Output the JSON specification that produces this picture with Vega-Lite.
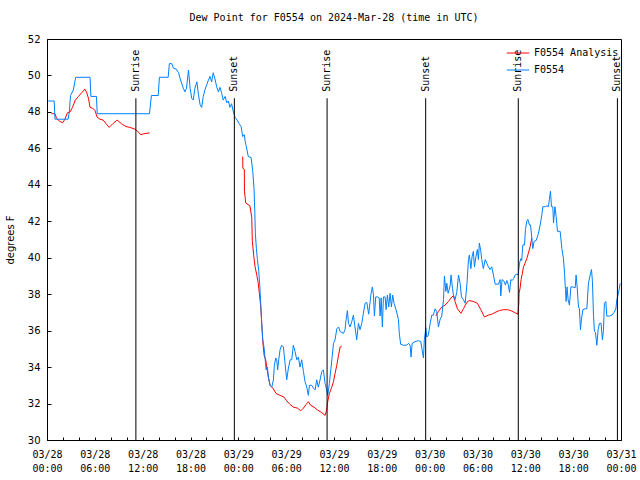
{
"$schema": "https://vega.github.io/schema/vega-lite/v6.json",
"width": 574, "height": 401,
"autosize": {"type": "none"},
"padding": {"left": 47, "top": 39, "right": 19, "bottom": 40},
"background": "white",
"title": {"text": "Dew Point for F0554 on 2024-Mar-28 (time in UTC)", "font": "DejaVu Sans Mono", "fontSize": 10, "fontWeight": "normal", "color": "black", "anchor": "middle", "offset": 11},
"config": {"view": {"stroke": "black", "strokeWidth": 1}, "axis": {"domainColor": "black", "tickColor": "black", "labelColor": "black", "titleColor": "black", "grid": false}},
"datasets": {
"sun": [
{"event": "Sunrise", "t": "2024-03-28T11:09:00Z"},
{"event": "Sunset", "t": "2024-03-28T23:30:00Z"},
{"event": "Sunrise", "t": "2024-03-29T11:08:00Z"},
{"event": "Sunset", "t": "2024-03-29T23:30:00Z"},
{"event": "Sunrise", "t": "2024-03-30T11:07:00Z"},
{"event": "Sunset", "t": "2024-03-30T23:33:00Z"}
],
"dew": [
{"series":"F0554 Analysis","seg":1,"t":"2024-03-28T00:33:00Z","v":47.9},
{"series":"F0554 Analysis","seg":1,"t":"2024-03-28T01:00:00Z","v":47.9},
{"series":"F0554 Analysis","seg":1,"t":"2024-03-28T01:12:00Z","v":47.65},
{"series":"F0554 Analysis","seg":1,"t":"2024-03-28T01:33:00Z","v":47.5},
{"series":"F0554 Analysis","seg":1,"t":"2024-03-28T01:57:00Z","v":47.4},
{"series":"F0554 Analysis","seg":1,"t":"2024-03-28T02:15:00Z","v":47.6},
{"series":"F0554 Analysis","seg":1,"t":"2024-03-28T02:33:00Z","v":47.95},
{"series":"F0554 Analysis","seg":1,"t":"2024-03-28T02:54:00Z","v":48.0},
{"series":"F0554 Analysis","seg":1,"t":"2024-03-28T03:12:00Z","v":48.25},
{"series":"F0554 Analysis","seg":1,"t":"2024-03-28T03:33:00Z","v":48.65},
{"series":"F0554 Analysis","seg":1,"t":"2024-03-28T03:57:00Z","v":48.85},
{"series":"F0554 Analysis","seg":1,"t":"2024-03-28T04:21:00Z","v":49.05},
{"series":"F0554 Analysis","seg":1,"t":"2024-03-28T04:45:00Z","v":49.25},
{"series":"F0554 Analysis","seg":1,"t":"2024-03-28T04:57:00Z","v":49.1},
{"series":"F0554 Analysis","seg":1,"t":"2024-03-28T05:12:00Z","v":48.75},
{"series":"F0554 Analysis","seg":1,"t":"2024-03-28T05:24:00Z","v":48.25},
{"series":"F0554 Analysis","seg":1,"t":"2024-03-28T05:42:00Z","v":48.2},
{"series":"F0554 Analysis","seg":1,"t":"2024-03-28T06:00:00Z","v":48.1},
{"series":"F0554 Analysis","seg":1,"t":"2024-03-28T06:18:00Z","v":47.7},
{"series":"F0554 Analysis","seg":1,"t":"2024-03-28T06:39:00Z","v":47.6},
{"series":"F0554 Analysis","seg":1,"t":"2024-03-28T07:03:00Z","v":47.55},
{"series":"F0554 Analysis","seg":1,"t":"2024-03-28T07:30:00Z","v":47.3},
{"series":"F0554 Analysis","seg":1,"t":"2024-03-28T07:48:00Z","v":47.15},
{"series":"F0554 Analysis","seg":1,"t":"2024-03-28T08:15:00Z","v":47.35},
{"series":"F0554 Analysis","seg":1,"t":"2024-03-28T08:48:00Z","v":47.55},
{"series":"F0554 Analysis","seg":1,"t":"2024-03-28T09:21:00Z","v":47.35},
{"series":"F0554 Analysis","seg":1,"t":"2024-03-28T09:54:00Z","v":47.2},
{"series":"F0554 Analysis","seg":1,"t":"2024-03-28T10:24:00Z","v":47.15},
{"series":"F0554 Analysis","seg":1,"t":"2024-03-28T11:03:00Z","v":47.05},
{"series":"F0554 Analysis","seg":1,"t":"2024-03-28T11:21:00Z","v":46.95},
{"series":"F0554 Analysis","seg":1,"t":"2024-03-28T11:45:00Z","v":46.75},
{"series":"F0554 Analysis","seg":1,"t":"2024-03-28T12:09:00Z","v":46.8},
{"series":"F0554 Analysis","seg":1,"t":"2024-03-28T12:51:00Z","v":46.85},
{"series":"F0554 Analysis","seg":2,"t":"2024-03-29T00:33:00Z","v":45.55},
{"series":"F0554 Analysis","seg":2,"t":"2024-03-29T00:34:00Z","v":44.9},
{"series":"F0554 Analysis","seg":2,"t":"2024-03-29T00:45:00Z","v":44.85},
{"series":"F0554 Analysis","seg":2,"t":"2024-03-29T00:46:00Z","v":43.65},
{"series":"F0554 Analysis","seg":2,"t":"2024-03-29T00:56:00Z","v":43.0},
{"series":"F0554 Analysis","seg":2,"t":"2024-03-29T01:27:00Z","v":42.85},
{"series":"F0554 Analysis","seg":2,"t":"2024-03-29T01:41:00Z","v":42.2},
{"series":"F0554 Analysis","seg":2,"t":"2024-03-29T01:45:00Z","v":40.95},
{"series":"F0554 Analysis","seg":2,"t":"2024-03-29T01:56:00Z","v":40.1},
{"series":"F0554 Analysis","seg":2,"t":"2024-03-29T02:06:00Z","v":39.5},
{"series":"F0554 Analysis","seg":2,"t":"2024-03-29T02:19:00Z","v":39.05},
{"series":"F0554 Analysis","seg":2,"t":"2024-03-29T02:30:00Z","v":38.6},
{"series":"F0554 Analysis","seg":2,"t":"2024-03-29T02:38:00Z","v":38.05},
{"series":"F0554 Analysis","seg":2,"t":"2024-03-29T02:49:00Z","v":37.3},
{"series":"F0554 Analysis","seg":2,"t":"2024-03-29T02:56:00Z","v":36.4},
{"series":"F0554 Analysis","seg":2,"t":"2024-03-29T03:04:00Z","v":35.4},
{"series":"F0554 Analysis","seg":2,"t":"2024-03-29T03:14:00Z","v":34.65},
{"series":"F0554 Analysis","seg":2,"t":"2024-03-29T03:26:00Z","v":34.4},
{"series":"F0554 Analysis","seg":2,"t":"2024-03-29T03:37:00Z","v":33.85},
{"series":"F0554 Analysis","seg":2,"t":"2024-03-29T03:46:00Z","v":33.45},
{"series":"F0554 Analysis","seg":2,"t":"2024-03-29T03:59:00Z","v":33.0},
{"series":"F0554 Analysis","seg":2,"t":"2024-03-29T04:19:00Z","v":32.85},
{"series":"F0554 Analysis","seg":2,"t":"2024-03-29T04:44:00Z","v":32.55},
{"series":"F0554 Analysis","seg":2,"t":"2024-03-29T05:14:00Z","v":32.45},
{"series":"F0554 Analysis","seg":2,"t":"2024-03-29T05:44:00Z","v":32.35},
{"series":"F0554 Analysis","seg":2,"t":"2024-03-29T06:04:00Z","v":32.15},
{"series":"F0554 Analysis","seg":2,"t":"2024-03-29T06:29:00Z","v":31.95},
{"series":"F0554 Analysis","seg":2,"t":"2024-03-29T06:55:00Z","v":31.8},
{"series":"F0554 Analysis","seg":2,"t":"2024-03-29T07:25:00Z","v":31.75},
{"series":"F0554 Analysis","seg":2,"t":"2024-03-29T07:50:00Z","v":31.6},
{"series":"F0554 Analysis","seg":2,"t":"2024-03-29T08:10:00Z","v":31.75},
{"series":"F0554 Analysis","seg":2,"t":"2024-03-29T08:30:00Z","v":31.95},
{"series":"F0554 Analysis","seg":2,"t":"2024-03-29T08:47:00Z","v":32.1},
{"series":"F0554 Analysis","seg":2,"t":"2024-03-29T09:05:00Z","v":31.9},
{"series":"F0554 Analysis","seg":2,"t":"2024-03-29T09:30:00Z","v":31.8},
{"series":"F0554 Analysis","seg":2,"t":"2024-03-29T09:55:00Z","v":31.65},
{"series":"F0554 Analysis","seg":2,"t":"2024-03-29T10:28:00Z","v":31.5},
{"series":"F0554 Analysis","seg":2,"t":"2024-03-29T10:53:00Z","v":31.35},
{"series":"F0554 Analysis","seg":2,"t":"2024-03-29T11:05:00Z","v":31.65},
{"series":"F0554 Analysis","seg":2,"t":"2024-03-29T11:10:00Z","v":32.0},
{"series":"F0554 Analysis","seg":2,"t":"2024-03-29T11:25:00Z","v":32.55},
{"series":"F0554 Analysis","seg":2,"t":"2024-03-29T11:43:00Z","v":32.9},
{"series":"F0554 Analysis","seg":2,"t":"2024-03-29T11:56:00Z","v":33.2},
{"series":"F0554 Analysis","seg":2,"t":"2024-03-29T12:08:00Z","v":33.65},
{"series":"F0554 Analysis","seg":2,"t":"2024-03-29T12:21:00Z","v":34.1},
{"series":"F0554 Analysis","seg":2,"t":"2024-03-29T12:34:00Z","v":34.65},
{"series":"F0554 Analysis","seg":2,"t":"2024-03-29T12:46:00Z","v":35.1},
{"series":"F0554 Analysis","seg":2,"t":"2024-03-29T12:58:00Z","v":35.15},
{"series":"F0554 Analysis","seg":3,"t":"2024-03-30T00:46:00Z","v":36.8},
{"series":"F0554 Analysis","seg":3,"t":"2024-03-30T01:06:00Z","v":37.05},
{"series":"F0554 Analysis","seg":3,"t":"2024-03-30T01:31:00Z","v":37.3},
{"series":"F0554 Analysis","seg":3,"t":"2024-03-30T01:56:00Z","v":37.4},
{"series":"F0554 Analysis","seg":3,"t":"2024-03-30T02:21:00Z","v":37.6},
{"series":"F0554 Analysis","seg":3,"t":"2024-03-30T02:47:00Z","v":37.85},
{"series":"F0554 Analysis","seg":3,"t":"2024-03-30T02:59:00Z","v":37.9},
{"series":"F0554 Analysis","seg":3,"t":"2024-03-30T03:11:00Z","v":37.6},
{"series":"F0554 Analysis","seg":3,"t":"2024-03-30T03:29:00Z","v":37.2},
{"series":"F0554 Analysis","seg":3,"t":"2024-03-30T03:55:00Z","v":36.95},
{"series":"F0554 Analysis","seg":3,"t":"2024-03-30T04:14:00Z","v":37.2},
{"series":"F0554 Analysis","seg":3,"t":"2024-03-30T04:40:00Z","v":37.55},
{"series":"F0554 Analysis","seg":3,"t":"2024-03-30T04:57:00Z","v":37.65},
{"series":"F0554 Analysis","seg":3,"t":"2024-03-30T05:29:00Z","v":37.6},
{"series":"F0554 Analysis","seg":3,"t":"2024-03-30T05:59:00Z","v":37.5},
{"series":"F0554 Analysis","seg":3,"t":"2024-03-30T06:25:00Z","v":37.15},
{"series":"F0554 Analysis","seg":3,"t":"2024-03-30T06:52:00Z","v":36.75},
{"series":"F0554 Analysis","seg":3,"t":"2024-03-30T07:22:00Z","v":36.85},
{"series":"F0554 Analysis","seg":3,"t":"2024-03-30T07:47:00Z","v":36.9},
{"series":"F0554 Analysis","seg":3,"t":"2024-03-30T08:13:00Z","v":37.0},
{"series":"F0554 Analysis","seg":3,"t":"2024-03-30T08:45:00Z","v":37.1},
{"series":"F0554 Analysis","seg":3,"t":"2024-03-30T09:16:00Z","v":37.15},
{"series":"F0554 Analysis","seg":3,"t":"2024-03-30T09:46:00Z","v":37.15},
{"series":"F0554 Analysis","seg":3,"t":"2024-03-30T10:11:00Z","v":37.1},
{"series":"F0554 Analysis","seg":3,"t":"2024-03-30T10:38:00Z","v":37.0},
{"series":"F0554 Analysis","seg":3,"t":"2024-03-30T11:04:00Z","v":36.9},
{"series":"F0554 Analysis","seg":3,"t":"2024-03-30T11:11:00Z","v":37.5},
{"series":"F0554 Analysis","seg":3,"t":"2024-03-30T11:13:00Z","v":38.05},
{"series":"F0554 Analysis","seg":3,"t":"2024-03-30T11:21:00Z","v":38.35},
{"series":"F0554 Analysis","seg":3,"t":"2024-03-30T11:28:00Z","v":38.8},
{"series":"F0554 Analysis","seg":3,"t":"2024-03-30T11:38:00Z","v":39.15},
{"series":"F0554 Analysis","seg":3,"t":"2024-03-30T11:46:00Z","v":39.5},
{"series":"F0554 Analysis","seg":3,"t":"2024-03-30T11:58:00Z","v":39.7},
{"series":"F0554 Analysis","seg":3,"t":"2024-03-30T12:11:00Z","v":39.95},
{"series":"F0554 Analysis","seg":3,"t":"2024-03-30T12:23:00Z","v":40.25},
{"series":"F0554 Analysis","seg":3,"t":"2024-03-30T12:36:00Z","v":40.6},
{"series":"F0554 Analysis","seg":3,"t":"2024-03-30T12:49:00Z","v":41.1},
{"series":"F0554","seg":0,"t":"2024-03-28T00:09:00Z","v":48.6},
{"series":"F0554","seg":0,"t":"2024-03-28T00:54:00Z","v":48.6},
{"series":"F0554","seg":0,"t":"2024-03-28T01:00:00Z","v":47.6},
{"series":"F0554","seg":0,"t":"2024-03-28T02:39:00Z","v":47.6},
{"series":"F0554","seg":0,"t":"2024-03-28T02:48:00Z","v":48.0},
{"series":"F0554","seg":0,"t":"2024-03-28T02:57:00Z","v":48.9},
{"series":"F0554","seg":0,"t":"2024-03-28T03:18:00Z","v":49.2},
{"series":"F0554","seg":0,"t":"2024-03-28T03:36:00Z","v":49.9},
{"series":"F0554","seg":0,"t":"2024-03-28T05:24:00Z","v":49.9},
{"series":"F0554","seg":0,"t":"2024-03-28T05:30:00Z","v":48.85},
{"series":"F0554","seg":0,"t":"2024-03-28T06:12:00Z","v":48.85},
{"series":"F0554","seg":0,"t":"2024-03-28T06:18:00Z","v":47.9},
{"series":"F0554","seg":0,"t":"2024-03-28T12:51:00Z","v":47.9},
{"series":"F0554","seg":0,"t":"2024-03-28T13:06:00Z","v":48.9},
{"series":"F0554","seg":0,"t":"2024-03-28T13:57:00Z","v":48.9},
{"series":"F0554","seg":0,"t":"2024-03-28T14:06:00Z","v":49.9},
{"series":"F0554","seg":0,"t":"2024-03-28T15:12:00Z","v":49.9},
{"series":"F0554","seg":0,"t":"2024-03-28T15:21:00Z","v":50.65},
{"series":"F0554","seg":0,"t":"2024-03-28T15:39:00Z","v":50.65},
{"series":"F0554","seg":0,"t":"2024-03-28T15:51:00Z","v":50.4},
{"series":"F0554","seg":0,"t":"2024-03-28T16:12:00Z","v":50.35},
{"series":"F0554","seg":0,"t":"2024-03-28T16:30:00Z","v":50.15},
{"series":"F0554","seg":0,"t":"2024-03-28T16:45:00Z","v":49.75},
{"series":"F0554","seg":0,"t":"2024-03-28T17:06:00Z","v":49.3},
{"series":"F0554","seg":0,"t":"2024-03-28T17:18:00Z","v":49.1},
{"series":"F0554","seg":0,"t":"2024-03-28T17:30:00Z","v":49.3},
{"series":"F0554","seg":0,"t":"2024-03-28T17:45:00Z","v":50.3},
{"series":"F0554","seg":0,"t":"2024-03-28T17:57:00Z","v":49.3},
{"series":"F0554","seg":0,"t":"2024-03-28T18:09:00Z","v":48.75},
{"series":"F0554","seg":0,"t":"2024-03-28T18:21:00Z","v":48.65},
{"series":"F0554","seg":0,"t":"2024-03-28T18:33:00Z","v":49.3},
{"series":"F0554","seg":0,"t":"2024-03-28T18:48:00Z","v":49.65},
{"series":"F0554","seg":0,"t":"2024-03-28T19:00:00Z","v":48.95},
{"series":"F0554","seg":0,"t":"2024-03-28T19:12:00Z","v":48.4},
{"series":"F0554","seg":0,"t":"2024-03-28T19:24:00Z","v":48.25},
{"series":"F0554","seg":0,"t":"2024-03-28T19:36:00Z","v":48.85},
{"series":"F0554","seg":0,"t":"2024-03-28T19:48:00Z","v":49.2},
{"series":"F0554","seg":0,"t":"2024-03-28T20:03:00Z","v":49.5},
{"series":"F0554","seg":0,"t":"2024-03-28T20:15:00Z","v":49.75},
{"series":"F0554","seg":0,"t":"2024-03-28T20:27:00Z","v":49.95},
{"series":"F0554","seg":0,"t":"2024-03-28T20:39:00Z","v":49.65},
{"series":"F0554","seg":0,"t":"2024-03-28T20:51:00Z","v":50.15},
{"series":"F0554","seg":0,"t":"2024-03-28T21:06:00Z","v":49.75},
{"series":"F0554","seg":0,"t":"2024-03-28T21:18:00Z","v":49.35},
{"series":"F0554","seg":0,"t":"2024-03-28T21:30:00Z","v":49.1},
{"series":"F0554","seg":0,"t":"2024-03-28T21:42:00Z","v":49.35},
{"series":"F0554","seg":0,"t":"2024-03-28T21:54:00Z","v":49.05},
{"series":"F0554","seg":0,"t":"2024-03-28T22:06:00Z","v":48.65},
{"series":"F0554","seg":0,"t":"2024-03-28T22:21:00Z","v":48.85},
{"series":"F0554","seg":0,"t":"2024-03-28T22:33:00Z","v":48.5},
{"series":"F0554","seg":0,"t":"2024-03-28T22:45:00Z","v":48.6},
{"series":"F0554","seg":0,"t":"2024-03-28T22:57:00Z","v":48.25},
{"series":"F0554","seg":0,"t":"2024-03-28T23:09:00Z","v":48.45},
{"series":"F0554","seg":0,"t":"2024-03-28T23:24:00Z","v":47.95},
{"series":"F0554","seg":0,"t":"2024-03-28T23:36:00Z","v":47.7},
{"series":"F0554","seg":0,"t":"2024-03-28T23:51:00Z","v":47.55},
{"series":"F0554","seg":0,"t":"2024-03-29T00:06:00Z","v":47.35},
{"series":"F0554","seg":0,"t":"2024-03-29T00:21:00Z","v":47.2},
{"series":"F0554","seg":0,"t":"2024-03-29T00:33:00Z","v":46.65},
{"series":"F0554","seg":0,"t":"2024-03-29T00:45:00Z","v":46.75},
{"series":"F0554","seg":0,"t":"2024-03-29T00:51:00Z","v":46.4},
{"series":"F0554","seg":0,"t":"2024-03-29T01:00:00Z","v":46.1},
{"series":"F0554","seg":0,"t":"2024-03-29T01:15:00Z","v":45.55},
{"series":"F0554","seg":0,"t":"2024-03-29T01:36:00Z","v":45.5},
{"series":"F0554","seg":0,"t":"2024-03-29T01:48:00Z","v":44.8},
{"series":"F0554","seg":0,"t":"2024-03-29T01:58:00Z","v":43.8},
{"series":"F0554","seg":0,"t":"2024-03-29T02:04:00Z","v":42.5},
{"series":"F0554","seg":0,"t":"2024-03-29T02:08:00Z","v":41.35},
{"series":"F0554","seg":0,"t":"2024-03-29T02:16:00Z","v":40.5},
{"series":"F0554","seg":0,"t":"2024-03-29T02:23:00Z","v":39.95},
{"series":"F0554","seg":0,"t":"2024-03-29T02:34:00Z","v":39.25},
{"series":"F0554","seg":0,"t":"2024-03-29T02:42:00Z","v":38.4},
{"series":"F0554","seg":0,"t":"2024-03-29T02:49:00Z","v":37.4},
{"series":"F0554","seg":0,"t":"2024-03-29T02:56:00Z","v":36.4},
{"series":"F0554","seg":0,"t":"2024-03-29T03:04:00Z","v":35.5},
{"series":"F0554","seg":0,"t":"2024-03-29T03:14:00Z","v":35.05},
{"series":"F0554","seg":0,"t":"2024-03-29T03:21:00Z","v":34.5},
{"series":"F0554","seg":0,"t":"2024-03-29T03:29:00Z","v":33.85},
{"series":"F0554","seg":0,"t":"2024-03-29T03:39:00Z","v":34.0},
{"series":"F0554","seg":0,"t":"2024-03-29T03:46:00Z","v":33.45},
{"series":"F0554","seg":0,"t":"2024-03-29T03:59:00Z","v":33.0},
{"series":"F0554","seg":0,"t":"2024-03-29T04:12:00Z","v":32.9},
{"series":"F0554","seg":0,"t":"2024-03-29T04:24:00Z","v":33.3},
{"series":"F0554","seg":0,"t":"2024-03-29T04:31:00Z","v":34.1},
{"series":"F0554","seg":0,"t":"2024-03-29T04:42:00Z","v":34.5},
{"series":"F0554","seg":0,"t":"2024-03-29T04:49:00Z","v":34.4},
{"series":"F0554","seg":0,"t":"2024-03-29T04:56:00Z","v":33.85},
{"series":"F0554","seg":0,"t":"2024-03-29T05:04:00Z","v":34.4},
{"series":"F0554","seg":0,"t":"2024-03-29T05:14:00Z","v":34.95},
{"series":"F0554","seg":0,"t":"2024-03-29T05:26:00Z","v":35.2},
{"series":"F0554","seg":0,"t":"2024-03-29T05:39:00Z","v":35.1},
{"series":"F0554","seg":0,"t":"2024-03-29T05:52:00Z","v":34.2},
{"series":"F0554","seg":0,"t":"2024-03-29T06:04:00Z","v":33.3},
{"series":"F0554","seg":0,"t":"2024-03-29T06:17:00Z","v":33.95},
{"series":"F0554","seg":0,"t":"2024-03-29T06:30:00Z","v":34.4},
{"series":"F0554","seg":0,"t":"2024-03-29T06:42:00Z","v":34.4},
{"series":"F0554","seg":0,"t":"2024-03-29T06:54:00Z","v":35.2},
{"series":"F0554","seg":0,"t":"2024-03-29T07:07:00Z","v":34.85},
{"series":"F0554","seg":0,"t":"2024-03-29T07:20:00Z","v":34.4},
{"series":"F0554","seg":0,"t":"2024-03-29T07:32:00Z","v":34.55},
{"series":"F0554","seg":0,"t":"2024-03-29T07:44:00Z","v":34.0},
{"series":"F0554","seg":0,"t":"2024-03-29T07:57:00Z","v":34.4},
{"series":"F0554","seg":0,"t":"2024-03-29T08:10:00Z","v":33.75},
{"series":"F0554","seg":0,"t":"2024-03-29T08:22:00Z","v":33.2},
{"series":"F0554","seg":0,"t":"2024-03-29T08:35:00Z","v":32.9},
{"series":"F0554","seg":0,"t":"2024-03-29T08:47:00Z","v":32.45},
{"series":"F0554","seg":0,"t":"2024-03-29T08:55:00Z","v":33.0},
{"series":"F0554","seg":0,"t":"2024-03-29T09:12:00Z","v":33.0},
{"series":"F0554","seg":0,"t":"2024-03-29T09:25:00Z","v":32.85},
{"series":"F0554","seg":0,"t":"2024-03-29T09:38:00Z","v":32.75},
{"series":"F0554","seg":0,"t":"2024-03-29T09:50:00Z","v":33.3},
{"series":"F0554","seg":0,"t":"2024-03-29T10:02:00Z","v":32.9},
{"series":"F0554","seg":0,"t":"2024-03-29T10:15:00Z","v":33.3},
{"series":"F0554","seg":0,"t":"2024-03-29T10:28:00Z","v":33.75},
{"series":"F0554","seg":0,"t":"2024-03-29T10:40:00Z","v":33.85},
{"series":"F0554","seg":0,"t":"2024-03-29T10:53:00Z","v":33.1},
{"series":"F0554","seg":0,"t":"2024-03-29T11:05:00Z","v":32.75},
{"series":"F0554","seg":0,"t":"2024-03-29T11:13:00Z","v":32.45},
{"series":"F0554","seg":0,"t":"2024-03-29T11:25:00Z","v":33.1},
{"series":"F0554","seg":0,"t":"2024-03-29T11:36:00Z","v":33.85},
{"series":"F0554","seg":0,"t":"2024-03-29T11:46:00Z","v":34.55},
{"series":"F0554","seg":0,"t":"2024-03-29T11:56:00Z","v":35.3},
{"series":"F0554","seg":0,"t":"2024-03-29T12:08:00Z","v":35.5},
{"series":"F0554","seg":0,"t":"2024-03-29T12:21:00Z","v":36.1},
{"series":"F0554","seg":0,"t":"2024-03-29T12:34:00Z","v":36.2},
{"series":"F0554","seg":0,"t":"2024-03-29T12:46:00Z","v":35.95},
{"series":"F0554","seg":0,"t":"2024-03-29T13:11:00Z","v":35.85},
{"series":"F0554","seg":0,"t":"2024-03-29T13:23:00Z","v":36.05},
{"series":"F0554","seg":0,"t":"2024-03-29T13:31:00Z","v":36.6},
{"series":"F0554","seg":0,"t":"2024-03-29T13:41:00Z","v":37.1},
{"series":"F0554","seg":0,"t":"2024-03-29T13:49:00Z","v":36.4},
{"series":"F0554","seg":0,"t":"2024-03-29T14:01:00Z","v":36.2},
{"series":"F0554","seg":0,"t":"2024-03-29T14:14:00Z","v":36.5},
{"series":"F0554","seg":0,"t":"2024-03-29T14:26:00Z","v":36.85},
{"series":"F0554","seg":0,"t":"2024-03-29T14:38:00Z","v":36.2},
{"series":"F0554","seg":0,"t":"2024-03-29T14:51:00Z","v":35.5},
{"series":"F0554","seg":0,"t":"2024-03-29T15:04:00Z","v":36.4},
{"series":"F0554","seg":0,"t":"2024-03-29T15:16:00Z","v":36.05},
{"series":"F0554","seg":0,"t":"2024-03-29T15:29:00Z","v":36.4},
{"series":"F0554","seg":0,"t":"2024-03-29T15:41:00Z","v":36.95},
{"series":"F0554","seg":0,"t":"2024-03-29T15:54:00Z","v":37.5},
{"series":"F0554","seg":0,"t":"2024-03-29T16:07:00Z","v":37.55},
{"series":"F0554","seg":0,"t":"2024-03-29T16:21:00Z","v":36.9},
{"series":"F0554","seg":0,"t":"2024-03-29T16:32:00Z","v":37.6},
{"series":"F0554","seg":0,"t":"2024-03-29T16:39:00Z","v":38.05},
{"series":"F0554","seg":0,"t":"2024-03-29T16:49:00Z","v":38.4},
{"series":"F0554","seg":0,"t":"2024-03-29T16:57:00Z","v":37.95},
{"series":"F0554","seg":0,"t":"2024-03-29T17:04:00Z","v":36.8},
{"series":"F0554","seg":0,"t":"2024-03-29T17:14:00Z","v":37.85},
{"series":"F0554","seg":0,"t":"2024-03-29T17:27:00Z","v":37.85},
{"series":"F0554","seg":0,"t":"2024-03-29T17:40:00Z","v":37.8},
{"series":"F0554","seg":0,"t":"2024-03-29T17:47:00Z","v":36.8},
{"series":"F0554","seg":0,"t":"2024-03-29T17:55:00Z","v":37.8},
{"series":"F0554","seg":0,"t":"2024-03-29T18:04:00Z","v":36.2},
{"series":"F0554","seg":0,"t":"2024-03-29T18:12:00Z","v":37.85},
{"series":"F0554","seg":0,"t":"2024-03-29T18:25:00Z","v":37.85},
{"series":"F0554","seg":0,"t":"2024-03-29T18:32:00Z","v":37.15},
{"series":"F0554","seg":0,"t":"2024-03-29T18:42:00Z","v":37.95},
{"series":"F0554","seg":0,"t":"2024-03-29T18:52:00Z","v":37.3},
{"series":"F0554","seg":0,"t":"2024-03-29T19:02:00Z","v":38.05},
{"series":"F0554","seg":0,"t":"2024-03-29T19:12:00Z","v":37.3},
{"series":"F0554","seg":0,"t":"2024-03-29T19:22:00Z","v":37.95},
{"series":"F0554","seg":0,"t":"2024-03-29T19:32:00Z","v":37.5},
{"series":"F0554","seg":0,"t":"2024-03-29T19:47:00Z","v":37.15},
{"series":"F0554","seg":0,"t":"2024-03-29T20:05:00Z","v":36.6},
{"series":"F0554","seg":0,"t":"2024-03-29T20:12:00Z","v":35.8},
{"series":"F0554","seg":0,"t":"2024-03-29T20:22:00Z","v":35.25},
{"series":"F0554","seg":0,"t":"2024-03-29T20:43:00Z","v":35.2},
{"series":"F0554","seg":0,"t":"2024-03-29T21:08:00Z","v":35.2},
{"series":"F0554","seg":0,"t":"2024-03-29T21:20:00Z","v":35.3},
{"series":"F0554","seg":0,"t":"2024-03-29T21:33:00Z","v":35.2},
{"series":"F0554","seg":0,"t":"2024-03-29T21:40:00Z","v":34.55},
{"series":"F0554","seg":0,"t":"2024-03-29T21:48:00Z","v":35.3},
{"series":"F0554","seg":0,"t":"2024-03-29T22:10:00Z","v":35.4},
{"series":"F0554","seg":0,"t":"2024-03-29T22:35:00Z","v":35.45},
{"series":"F0554","seg":0,"t":"2024-03-29T22:53:00Z","v":35.4},
{"series":"F0554","seg":0,"t":"2024-03-29T23:03:00Z","v":34.95},
{"series":"F0554","seg":0,"t":"2024-03-29T23:13:00Z","v":34.5},
{"series":"F0554","seg":0,"t":"2024-03-29T23:20:00Z","v":35.5},
{"series":"F0554","seg":0,"t":"2024-03-29T23:31:00Z","v":36.15},
{"series":"F0554","seg":0,"t":"2024-03-29T23:38:00Z","v":35.65},
{"series":"F0554","seg":0,"t":"2024-03-29T23:50:00Z","v":35.75},
{"series":"F0554","seg":0,"t":"2024-03-30T00:04:00Z","v":36.4},
{"series":"F0554","seg":0,"t":"2024-03-30T00:16:00Z","v":36.85},
{"series":"F0554","seg":0,"t":"2024-03-30T00:28:00Z","v":36.85},
{"series":"F0554","seg":0,"t":"2024-03-30T00:41:00Z","v":37.2},
{"series":"F0554","seg":0,"t":"2024-03-30T00:53:00Z","v":37.05},
{"series":"F0554","seg":0,"t":"2024-03-30T01:06:00Z","v":36.2},
{"series":"F0554","seg":0,"t":"2024-03-30T01:18:00Z","v":36.6},
{"series":"F0554","seg":0,"t":"2024-03-30T01:31:00Z","v":36.8},
{"series":"F0554","seg":0,"t":"2024-03-30T01:44:00Z","v":37.7},
{"series":"F0554","seg":0,"t":"2024-03-30T01:51:00Z","v":39.0},
{"series":"F0554","seg":0,"t":"2024-03-30T02:02:00Z","v":38.15},
{"series":"F0554","seg":0,"t":"2024-03-30T02:09:00Z","v":38.6},
{"series":"F0554","seg":0,"t":"2024-03-30T02:19:00Z","v":38.05},
{"series":"F0554","seg":0,"t":"2024-03-30T02:34:00Z","v":38.45},
{"series":"F0554","seg":0,"t":"2024-03-30T02:41:00Z","v":39.05},
{"series":"F0554","seg":0,"t":"2024-03-30T02:52:00Z","v":38.3},
{"series":"F0554","seg":0,"t":"2024-03-30T02:59:00Z","v":37.95},
{"series":"F0554","seg":0,"t":"2024-03-30T03:11:00Z","v":37.7},
{"series":"F0554","seg":0,"t":"2024-03-30T03:24:00Z","v":38.1},
{"series":"F0554","seg":0,"t":"2024-03-30T03:37:00Z","v":39.05},
{"series":"F0554","seg":0,"t":"2024-03-30T03:49:00Z","v":38.6},
{"series":"F0554","seg":0,"t":"2024-03-30T03:59:00Z","v":37.85},
{"series":"F0554","seg":0,"t":"2024-03-30T04:14:00Z","v":37.7},
{"series":"F0554","seg":0,"t":"2024-03-30T04:27:00Z","v":37.5},
{"series":"F0554","seg":0,"t":"2024-03-30T04:40:00Z","v":38.5},
{"series":"F0554","seg":0,"t":"2024-03-30T04:52:00Z","v":39.9},
{"series":"F0554","seg":0,"t":"2024-03-30T04:59:00Z","v":40.15},
{"series":"F0554","seg":0,"t":"2024-03-30T05:10:00Z","v":39.4},
{"series":"F0554","seg":0,"t":"2024-03-30T05:19:00Z","v":40.05},
{"series":"F0554","seg":0,"t":"2024-03-30T05:29:00Z","v":40.35},
{"series":"F0554","seg":0,"t":"2024-03-30T05:37:00Z","v":39.5},
{"series":"F0554","seg":0,"t":"2024-03-30T05:48:00Z","v":40.05},
{"series":"F0554","seg":0,"t":"2024-03-30T05:59:00Z","v":40.45},
{"series":"F0554","seg":0,"t":"2024-03-30T06:07:00Z","v":39.9},
{"series":"F0554","seg":0,"t":"2024-03-30T06:14:00Z","v":40.8},
{"series":"F0554","seg":0,"t":"2024-03-30T06:24:00Z","v":40.4},
{"series":"F0554","seg":0,"t":"2024-03-30T06:32:00Z","v":39.9},
{"series":"F0554","seg":0,"t":"2024-03-30T06:44:00Z","v":39.4},
{"series":"F0554","seg":0,"t":"2024-03-30T06:58:00Z","v":39.9},
{"series":"F0554","seg":0,"t":"2024-03-30T07:10:00Z","v":39.7},
{"series":"F0554","seg":0,"t":"2024-03-30T07:22:00Z","v":39.5},
{"series":"F0554","seg":0,"t":"2024-03-30T07:35:00Z","v":39.35},
{"series":"F0554","seg":0,"t":"2024-03-30T07:47:00Z","v":39.5},
{"series":"F0554","seg":0,"t":"2024-03-30T08:00:00Z","v":39.05},
{"series":"F0554","seg":0,"t":"2024-03-30T08:13:00Z","v":38.55},
{"series":"F0554","seg":0,"t":"2024-03-30T08:38:00Z","v":38.55},
{"series":"F0554","seg":0,"t":"2024-03-30T08:50:00Z","v":38.8},
{"series":"F0554","seg":0,"t":"2024-03-30T08:55:00Z","v":37.9},
{"series":"F0554","seg":0,"t":"2024-03-30T09:05:00Z","v":38.8},
{"series":"F0554","seg":0,"t":"2024-03-30T09:21:00Z","v":38.7},
{"series":"F0554","seg":0,"t":"2024-03-30T09:30:00Z","v":38.5},
{"series":"F0554","seg":0,"t":"2024-03-30T09:41:00Z","v":38.75},
{"series":"F0554","seg":0,"t":"2024-03-30T09:51:00Z","v":38.55},
{"series":"F0554","seg":0,"t":"2024-03-30T10:01:00Z","v":38.1},
{"series":"F0554","seg":0,"t":"2024-03-30T10:11:00Z","v":38.8},
{"series":"F0554","seg":0,"t":"2024-03-30T10:21:00Z","v":38.75},
{"series":"F0554","seg":0,"t":"2024-03-30T10:31:00Z","v":38.85},
{"series":"F0554","seg":0,"t":"2024-03-30T10:43:00Z","v":39.05},
{"series":"F0554","seg":0,"t":"2024-03-30T10:56:00Z","v":39.1},
{"series":"F0554","seg":0,"t":"2024-03-30T11:06:00Z","v":39.05},
{"series":"F0554","seg":0,"t":"2024-03-30T11:16:00Z","v":39.7},
{"series":"F0554","seg":0,"t":"2024-03-30T11:26:00Z","v":39.95},
{"series":"F0554","seg":0,"t":"2024-03-30T11:33:00Z","v":39.85},
{"series":"F0554","seg":0,"t":"2024-03-30T11:41:00Z","v":40.7},
{"series":"F0554","seg":0,"t":"2024-03-30T11:54:00Z","v":40.7},
{"series":"F0554","seg":0,"t":"2024-03-30T12:01:00Z","v":41.55},
{"series":"F0554","seg":0,"t":"2024-03-30T12:11:00Z","v":42.0},
{"series":"F0554","seg":0,"t":"2024-03-30T12:19:00Z","v":42.1},
{"series":"F0554","seg":0,"t":"2024-03-30T12:31:00Z","v":41.8},
{"series":"F0554","seg":0,"t":"2024-03-30T12:39:00Z","v":41.8},
{"series":"F0554","seg":0,"t":"2024-03-30T12:49:00Z","v":41.05},
{"series":"F0554","seg":0,"t":"2024-03-30T12:56:00Z","v":40.5},
{"series":"F0554","seg":0,"t":"2024-03-30T13:06:00Z","v":40.9},
{"series":"F0554","seg":0,"t":"2024-03-30T13:22:00Z","v":40.95},
{"series":"F0554","seg":0,"t":"2024-03-30T13:39:00Z","v":41.35},
{"series":"F0554","seg":0,"t":"2024-03-30T13:52:00Z","v":41.8},
{"series":"F0554","seg":0,"t":"2024-03-30T14:04:00Z","v":42.35},
{"series":"F0554","seg":0,"t":"2024-03-30T14:12:00Z","v":42.8},
{"series":"F0554","seg":0,"t":"2024-03-30T14:30:00Z","v":42.8},
{"series":"F0554","seg":0,"t":"2024-03-30T14:42:00Z","v":42.85},
{"series":"F0554","seg":0,"t":"2024-03-30T14:54:00Z","v":42.8},
{"series":"F0554","seg":0,"t":"2024-03-30T15:01:00Z","v":43.2},
{"series":"F0554","seg":0,"t":"2024-03-30T15:09:00Z","v":43.65},
{"series":"F0554","seg":0,"t":"2024-03-30T15:17:00Z","v":42.8},
{"series":"F0554","seg":0,"t":"2024-03-30T15:27:00Z","v":42.8},
{"series":"F0554","seg":0,"t":"2024-03-30T15:32:00Z","v":41.9},
{"series":"F0554","seg":0,"t":"2024-03-30T15:43:00Z","v":42.8},
{"series":"F0554","seg":0,"t":"2024-03-30T15:52:00Z","v":42.25},
{"series":"F0554","seg":0,"t":"2024-03-30T16:02:00Z","v":41.45},
{"series":"F0554","seg":0,"t":"2024-03-30T16:22:00Z","v":41.45},
{"series":"F0554","seg":0,"t":"2024-03-30T16:35:00Z","v":40.5},
{"series":"F0554","seg":0,"t":"2024-03-30T16:47:00Z","v":39.95},
{"series":"F0554","seg":0,"t":"2024-03-30T16:55:00Z","v":39.15},
{"series":"F0554","seg":0,"t":"2024-03-30T17:02:00Z","v":38.25},
{"series":"F0554","seg":0,"t":"2024-03-30T17:07:00Z","v":37.6},
{"series":"F0554","seg":0,"t":"2024-03-30T17:14:00Z","v":38.4},
{"series":"F0554","seg":0,"t":"2024-03-30T17:22:00Z","v":37.7},
{"series":"F0554","seg":0,"t":"2024-03-30T17:32:00Z","v":37.4},
{"series":"F0554","seg":0,"t":"2024-03-30T17:43:00Z","v":38.4},
{"series":"F0554","seg":0,"t":"2024-03-30T17:58:00Z","v":38.4},
{"series":"F0554","seg":0,"t":"2024-03-30T18:15:00Z","v":38.35},
{"series":"F0554","seg":0,"t":"2024-03-30T18:22:00Z","v":39.05},
{"series":"F0554","seg":0,"t":"2024-03-30T18:30:00Z","v":38.4},
{"series":"F0554","seg":0,"t":"2024-03-30T18:40:00Z","v":37.3},
{"series":"F0554","seg":0,"t":"2024-03-30T18:47:00Z","v":37.2},
{"series":"F0554","seg":0,"t":"2024-03-30T18:55:00Z","v":36.05},
{"series":"F0554","seg":0,"t":"2024-03-30T19:02:00Z","v":36.6},
{"series":"F0554","seg":0,"t":"2024-03-30T19:13:00Z","v":37.15},
{"series":"F0554","seg":0,"t":"2024-03-30T19:30:00Z","v":37.2},
{"series":"F0554","seg":0,"t":"2024-03-30T19:43:00Z","v":37.2},
{"series":"F0554","seg":0,"t":"2024-03-30T19:55:00Z","v":38.6},
{"series":"F0554","seg":0,"t":"2024-03-30T20:08:00Z","v":39.05},
{"series":"F0554","seg":0,"t":"2024-03-30T20:18:00Z","v":39.35},
{"series":"F0554","seg":0,"t":"2024-03-30T20:25:00Z","v":38.7},
{"series":"F0554","seg":0,"t":"2024-03-30T20:33:00Z","v":36.85},
{"series":"F0554","seg":0,"t":"2024-03-30T20:40:00Z","v":35.95},
{"series":"F0554","seg":0,"t":"2024-03-30T20:48:00Z","v":35.9},
{"series":"F0554","seg":0,"t":"2024-03-30T20:58:00Z","v":35.2},
{"series":"F0554","seg":0,"t":"2024-03-30T21:08:00Z","v":36.05},
{"series":"F0554","seg":0,"t":"2024-03-30T21:18:00Z","v":36.4},
{"series":"F0554","seg":0,"t":"2024-03-30T21:30:00Z","v":36.4},
{"series":"F0554","seg":0,"t":"2024-03-30T21:40:00Z","v":35.5},
{"series":"F0554","seg":0,"t":"2024-03-30T21:48:00Z","v":36.0},
{"series":"F0554","seg":0,"t":"2024-03-30T21:55:00Z","v":37.5},
{"series":"F0554","seg":0,"t":"2024-03-30T22:06:00Z","v":37.6},
{"series":"F0554","seg":0,"t":"2024-03-30T22:13:00Z","v":36.8},
{"series":"F0554","seg":0,"t":"2024-03-30T22:33:00Z","v":36.8},
{"series":"F0554","seg":0,"t":"2024-03-30T22:51:00Z","v":36.85},
{"series":"F0554","seg":0,"t":"2024-03-30T23:08:00Z","v":37.0},
{"series":"F0554","seg":0,"t":"2024-03-30T23:21:00Z","v":37.2},
{"series":"F0554","seg":0,"t":"2024-03-30T23:29:00Z","v":37.7},
{"series":"F0554","seg":0,"t":"2024-03-30T23:41:00Z","v":38.05},
{"series":"F0554","seg":0,"t":"2024-03-30T23:54:00Z","v":38.6}
]
},
"encoding": {
"x": {"field": "t", "type": "temporal",
 "scale": {"type": "utc", "domain": [1711584000000, 1711843200000]},
 "axis": {"title": null,
  "values": [1711584000000, 1711591200000, 1711598400000, 1711605600000, 1711612800000, 1711620000000, 1711627200000, 1711634400000, 1711641600000, 1711648800000, 1711656000000, 1711663200000, 1711670400000, 1711677600000, 1711684800000, 1711692000000, 1711699200000, 1711706400000, 1711713600000, 1711720800000, 1711728000000, 1711735200000, 1711742400000, 1711749600000, 1711756800000, 1711764000000, 1711771200000, 1711778400000, 1711785600000, 1711792800000, 1711800000000, 1711807200000, 1711814400000, 1711821600000, 1711828800000, 1711836000000, 1711843200000],
  "labelExpr": "utchours(datum.value) % 6 == 0 ? [utcFormat(datum.value, '%m/%d'), utcFormat(datum.value, '%H:%M')] : ''",
  "tickSize": -3, "labelPadding": 12, "labelFont": "DejaVu Sans Mono", "labelFontSize": 10, "labelLineHeight": 14,
  "labelFlush": false, "labelOverlap": false}}
},
"layer": [
{
"data": {"name": "dew"},
"mark": {"type": "line", "strokeWidth": 1},
"encoding": {
"y": {"field": "v", "type": "quantitative",
 "scale": {"domain": [30, 52], "nice": false, "zero": false},
 "axis": {"title": "degrees F", "values": [30, 32, 34, 36, 38, 40, 42, 44, 46, 48, 50, 52], "tickSize": -4, "labelPadding": 11,
  "labelFont": "DejaVu Sans", "labelFontSize": 10, "titleFont": "DejaVu Sans", "titleFontSize": 10, "titleFontWeight": "normal", "titlePadding": 12}},
"color": {"field": "series", "type": "nominal",
 "scale": {"domain": ["F0554 Analysis", "F0554"], "range": ["#ff0000", "#0080ff"]},
 "legend": {"title": null, "orient": "top-right", "offset": 2, "padding": 0, "rowPadding": 0, "symbolType": "stroke", "symbolSize": 500, "symbolStrokeWidth": 1,
  "labelFont": "DejaVu Sans Mono", "labelFontSize": 10, "labelColor": "black"}},
"detail": {"field": "seg"}
}
},
{
"data": {"name": "sun"},
"mark": {"type": "rule", "color": "black", "strokeWidth": 1},
"encoding": {
"y": {"datum": 30, "type": "quantitative",
 "scale": {"domain": [30, 52], "nice": false, "zero": false},
 "axis": {"title": "degrees F", "values": [30, 32, 34, 36, 38, 40, 42, 44, 46, 48, 50, 52], "tickSize": -4, "labelPadding": 11,
  "labelFont": "DejaVu Sans", "labelFontSize": 10, "titleFont": "DejaVu Sans", "titleFontSize": 10, "titleFontWeight": "normal", "titlePadding": 12}},
"y2": {"datum": 48.75}
}
},
{
"data": {"name": "sun"},
"mark": {"type": "text", "angle": 270, "align": "left", "baseline": "middle", "font": "DejaVu Sans Mono", "fontSize": 10, "color": "black"},
"encoding": {
"y": {"datum": 49.1, "type": "quantitative",
 "scale": {"domain": [30, 52], "nice": false, "zero": false},
 "axis": {"title": "degrees F", "values": [30, 32, 34, 36, 38, 40, 42, 44, 46, 48, 50, 52], "tickSize": -4, "labelPadding": 11,
  "labelFont": "DejaVu Sans", "labelFontSize": 10, "titleFont": "DejaVu Sans", "titleFontSize": 10, "titleFontWeight": "normal", "titlePadding": 12}},
"text": {"field": "event"}
}
}
]
}
